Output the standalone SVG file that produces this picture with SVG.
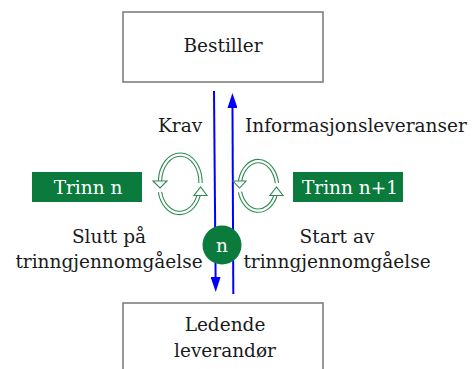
<svg xmlns="http://www.w3.org/2000/svg" width="474" height="369" viewBox="0 0 474 369">
  <style>
    .box { fill: #ffffff; stroke: #7f7f7f; stroke-width: 1.6; }
    .stage { fill: #0a7b3d; }
    .txt { font-family: "DejaVu Serif", "Liberation Serif", serif; font-size: 18.5px; fill: #1a1a1a; }
    .wtxt { font-family: "DejaVu Serif", "Liberation Serif", serif; font-size: 18.5px; fill: #ffffff; }
    .flow { stroke: #0000ff; stroke-width: 2; fill: none; }
    .ring-out { fill: none; stroke: #2e8b50; stroke-width: 4.4; }
    .ring-in { fill: none; stroke: #ffffff; stroke-width: 2.2; }
    .ring-head { fill: #ffffff; stroke: #2e8b50; stroke-width: 1.1; stroke-linejoin: miter; }
  </style>
  <defs>
    <!-- solid blue arrowhead, tip 15px beyond the line end -->
    <marker id="blue-head" viewBox="0 0 15 10" refX="0" refY="5" markerWidth="15" markerHeight="10" markerUnits="userSpaceOnUse" orient="auto">
      <path d="M0,0 L15,5 L0,10 Z" fill="#0000ff"/>
    </marker>
  </defs>

  <!-- Principal / client -->
  <g id="bestiller">
    <rect class="box" x="123" y="12" width="200" height="70"/>
    <text class="txt" x="223" y="52" text-anchor="middle">Bestiller</text>
  </g>

  <!-- Lead supplier -->
  <g id="ledende-leverandor">
    <rect class="box" x="123" y="303" width="200" height="80"/>
    <text class="txt" x="225" y="331" text-anchor="middle">Ledende</text>
    <text class="txt" x="225" y="357" text-anchor="middle">leverandør</text>
  </g>

  <!-- Requirement / information flows -->
  <g id="connectors">
    <path class="flow" d="M214,91 L215.6,277" marker-end="url(#blue-head)"/>
    <path class="flow" d="M233.3,294 L232.5,108" marker-end="url(#blue-head)"/>
  </g>

  <!-- Stage boxes -->
  <g id="trinn-n">
    <rect class="stage" x="32" y="172" width="110" height="30"/>
    <text class="wtxt" x="88" y="194" text-anchor="middle">Trinn n</text>
  </g>
  <g id="trinn-n1">
    <rect class="stage" x="293" y="172" width="110" height="30"/>
    <text class="wtxt" x="350" y="194" text-anchor="middle">Trinn n+1</text>
  </g>

  <!-- Review cycles -->
  <g id="syklus-venstre">
    <path class="ring-out" d="M200.5,183 A20,27 0 0 0 160,181"/>
    <path class="ring-in" d="M200.5,183 A20,27 0 0 0 160,181"/>
    <path class="ring-out" d="M160,192 A20,26 0 0 0 198.5,195.5"/>
    <path class="ring-in" d="M160,192 A20,26 0 0 0 198.5,195.5"/>
    <polygon class="ring-head" points="153,181 167,181 160,188"/>
    <polygon class="ring-head" points="194,195.5 207,195.5 200.5,187"/>
  </g>
  <g id="syklus-hoyre">
    <path class="ring-out" d="M277,183 A19,27 0 0 0 240,181"/>
    <path class="ring-in" d="M277,183 A19,27 0 0 0 240,181"/>
    <path class="ring-out" d="M240,192 A19,26 0 0 0 275.5,195.5"/>
    <path class="ring-in" d="M240,192 A19,26 0 0 0 275.5,195.5"/>
    <polygon class="ring-head" points="233,181 246,181 239.5,188"/>
    <polygon class="ring-head" points="270,195.5 283,195.5 276.5,187"/>
  </g>

  <!-- Stage marker -->
  <g id="node-n">
    <circle cx="222" cy="245" r="19.5" fill="#0a7b3d"/>
    <text class="wtxt" x="222" y="251.5" text-anchor="middle">n</text>
  </g>

  <!-- Labels -->
  <g id="labels">
    <text class="txt" x="158" y="132">Krav</text>
    <text class="txt" x="245" y="132">Informasjonsleveranser</text>
    <text class="txt" x="109" y="243" text-anchor="middle">Slutt på</text>
    <text class="txt" x="109" y="268" text-anchor="middle">trinngjennomgåelse</text>
    <text class="txt" x="337" y="243" text-anchor="middle">Start av</text>
    <text class="txt" x="337" y="268" text-anchor="middle">trinngjennomgåelse</text>
  </g>
</svg>
